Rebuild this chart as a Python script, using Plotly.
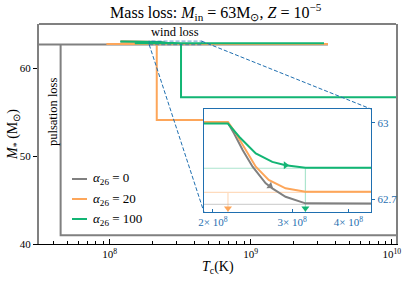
import math
import plotly.graph_objects as go

# ------------------------------------------------------------------ data
alpha_values = ["0", "20", "100"]
colors = ["#808080", "#fda65a", "#12b574"]
light_colors = ["rgba(128,128,128,0.35)", "rgba(253,166,90,0.40)", "rgba(18,181,116,0.35)"]

# forward phase (contraction + wind loss), T_c in K, M in Msun
g_fwd_T = [1.2e8, 2.16e8, 2.23e8, 2.33e8, 2.45e8, 2.62e8, 2.71e8, 2.90e8, 3.21e8, 4.45e8, 3.53e9]
g_fwd_M = [63.0, 63.0, 62.958, 62.893, 62.828, 62.763, 62.743, 62.710, 62.684, 62.680, 62.680]
o_fwd_T = [1.2e8, 2.16e8, 2.25e8, 2.37e8, 2.49e8, 2.66e8, 2.90e8, 3.21e8, 4.45e8, 3.53e9]
o_fwd_M = [63.004, 63.004, 62.959, 62.893, 62.828, 62.776, 62.743, 62.730, 62.727, 62.727]
gr_fwd_T = [1.19e8, 2.16e8, 2.29e8, 2.49e8, 2.71e8, 2.90e8, 3.21e8, 4.45e8, 3.31e9]
gr_fwd_M = [62.998, 62.998, 62.945, 62.880, 62.847, 62.834, 62.824, 62.822, 62.822]

# return phase (pulse: T_c drops, mass lost, contraction to the end)
g_ret_T = [3.53e9, 2.5e7, 4.5e7, 4.5e7, 1.5e10]
g_ret_M = [62.680, 62.680, 62.680, 41.0, 41.0]
o_ret_T = [3.53e9, 9.5e7, 2.16e8, 2.16e8, 3.0e9]
o_ret_M = [62.727, 62.727, 62.727, 54.1, 54.1]
gr_ret_T = [3.31e9, 1.51e8, 3.21e8, 3.21e8, 1.5e10]
gr_ret_M = [62.822, 62.822, 62.822, 56.67, 56.67]

# direction arrows in the inset
arrow_T = [[2.68e8], [2.16e8], [2.90e8, 3.21e8]]
arrow_M = [[62.752], [62.665], [62.834, 62.665]]
arrow_sym = [["triangle-right"], ["triangle-down"], ["triangle-right", "triangle-down"]]
arrow_ang = [[35], [0], [0, 0]]

fwd_T = [g_fwd_T, o_fwd_T, gr_fwd_T]
fwd_M = [g_fwd_M, o_fwd_M, gr_fwd_M]
ret_T = [g_ret_T, o_ret_T, gr_ret_T]
ret_M = [g_ret_M, o_ret_M, gr_ret_M]

# axes ranges
X_RANGE = [7.5, 10.03]          # log10 T_c
Y_RANGE = [40, 65]
INSET_T = [1.91e8, 4.49e8]
INSET_M = [62.65, 63.055]
INSET_XDOM = [0.462, 0.930]
INSET_YDOM = [0.1455, 0.6136]

BLUE = "#1f6fb0"
FONT = "Liberation Serif"


def paper_x(T):
    return (math.log10(T) - X_RANGE[0]) / (X_RANGE[1] - X_RANGE[0])


def paper_y(M):
    return (M - Y_RANGE[0]) / (Y_RANGE[1] - Y_RANGE[0])


fig = go.Figure()

# ---------------------------------------------------------- main traces
for i in range(3):
    fig.add_trace(go.Scatter(
        x=fwd_T[i] + ret_T[i][1:], y=fwd_M[i] + ret_M[i][1:],
        mode="lines", line=dict(color=colors[i], width=2),
        showlegend=False, hoverinfo="skip", xaxis="x", yaxis="y"))

# zoom rectangle on main axes
fig.add_trace(go.Scatter(
    x=[INSET_T[0], INSET_T[1], INSET_T[1], INSET_T[0], INSET_T[0]],
    y=[INSET_M[0], INSET_M[0], INSET_M[1], INSET_M[1], INSET_M[0]],
    mode="lines", line=dict(color="rgba(31,111,176,0.55)", width=1.2, dash="4px,2px"),
    showlegend=False, hoverinfo="skip", xaxis="x", yaxis="y"))

# ---------------------------------------------------------- inset traces
fig.add_trace(go.Scatter(
    x=[INSET_T[0], INSET_T[1], INSET_T[1], INSET_T[0], INSET_T[0]],
    y=[INSET_M[0], INSET_M[0], INSET_M[1], INSET_M[1], INSET_M[0]],
    mode="lines", fill="toself", fillcolor="white", line=dict(width=0, color="white"),
    showlegend=False, hoverinfo="skip", xaxis="x2", yaxis="y2"))
for i in range(3):
    fig.add_trace(go.Scatter(
        x=ret_T[i], y=ret_M[i], mode="lines",
        line=dict(color=light_colors[i], width=1.2),
        showlegend=False, hoverinfo="skip", xaxis="x2", yaxis="y2"))
for i in range(3):
    fig.add_trace(go.Scatter(
        x=fwd_T[i], y=fwd_M[i], mode="lines",
        line=dict(color=colors[i], width=2),
        showlegend=False, hoverinfo="skip", xaxis="x2", yaxis="y2"))
for i in range(3):
    fig.add_trace(go.Scatter(
        x=arrow_T[i], y=arrow_M[i], mode="markers",
        marker=dict(symbol=arrow_sym[i], angle=arrow_ang[i], size=7, color=colors[i],
                    line=dict(width=0)),
        cliponaxis=False,
        showlegend=False, hoverinfo="skip", xaxis="x2", yaxis="y2"))

# ---------------------------------------------------------- shapes
shapes = []
# top spine (gray)
shapes.append(dict(type="line", xref="paper", yref="paper", x0=0, x1=1, y0=1, y1=1,
                   line=dict(color="#808080", width=2)))
# inset connectors
shapes.append(dict(type="line", xref="paper", yref="paper",
                   x0=paper_x(INSET_T[1]), y0=paper_y(INSET_M[1]),
                   x1=INSET_XDOM[1], y1=INSET_YDOM[1],
                   line=dict(color=BLUE, width=1, dash="4px,2px")))
shapes.append(dict(type="line", xref="paper", yref="paper",
                   x0=paper_x(INSET_T[0]), y0=paper_y(INSET_M[0]),
                   x1=INSET_XDOM[0], y1=INSET_YDOM[0],
                   line=dict(color=BLUE, width=1, dash="4px,2px")))

# legend (manual)
annotations = []
leg_y = [0.2955, 0.2045, 0.1136]
for i in range(3):
    shapes.append(dict(type="line", xref="paper", yref="paper",
                       x0=0.0924, x1=0.1345, y0=leg_y[i], y1=leg_y[i],
                       line=dict(color=colors[i], width=2)))
    annotations.append(dict(xref="paper", yref="paper", x=0.147, y=leg_y[i],
                            xanchor="left", yanchor="middle", showarrow=False,
                            text="<i>α</i><sub>26</sub> = " + alpha_values[i],
                            font=dict(size=13, color="black", family=FONT)))

annotations += [
    dict(xref="x", yref="y", x=math.log10(2.9e8), y=64.1, text="wind loss",
         xanchor="center", yanchor="middle",
         showarrow=False, font=dict(size=12.5, color="black", family=FONT)),
    dict(xref="x", yref="y", x=math.log10(3.97e7), y=55.1, text="pulsation loss",
         xanchor="center", yanchor="middle",
         textangle=-90, showarrow=False, font=dict(size=12.5, color="black", family=FONT)),
    dict(xref="paper", yref="paper", x=0.5, y=-0.109,
         xanchor="center", yanchor="middle",
         text="<i>T</i><sub>c</sub>(K)", showarrow=False,
         font=dict(size=14, color="black", family=FONT)),
    dict(xref="paper", yref="paper", x=-0.073, y=0.5, textangle=-90,
         xanchor="center", yanchor="middle",
         text="<i>M</i><sub>*</sub> (M<sub>⊙</sub>)", showarrow=False,
         font=dict(size=14, color="black", family=FONT)),
]

major_x = [1e8, 1e9, 1e10]
major_x_text = ["10<sup>8</sup>", "10<sup>9</sup>", "10<sup>10</sup>"]
minor_x = [k * 10 ** n for n in (7, 8, 9) for k in range(2, 10)]

inset_x_vals = [2e8, 3e8, 4e8]
inset_x_text = ["2× 10<sup>8</sup>", "3× 10<sup>8</sup>", "4× 10<sup>8</sup>"]
inset_y_vals = [63.0, 62.7]
inset_y_text = ["63", "62.7"]

fig.update_layout(
    width=407, height=288,
    margin=dict(l=39, r=11, t=24, b=44),
    paper_bgcolor="white", plot_bgcolor="white",
    font=dict(family=FONT, color="black"),
    showlegend=False,
    title=dict(text="Mass loss: <i>M</i><sub>in</sub> = 63M<sub>⊙</sub>, <i>Z</i> = 10<sup>−5</sup>",
               x=0.53, xanchor="center", y=0.958, yanchor="middle",
               font=dict(size=16, family=FONT, color="black")),
    xaxis=dict(type="log", range=X_RANGE, domain=[0, 1], anchor="y",
               showgrid=False, zeroline=False, automargin=False,
               showline=True, linecolor="black", linewidth=1.2, mirror=False,
               ticks="inside", ticklen=5, tickwidth=1, tickcolor="black",
               tickvals=major_x, ticktext=major_x_text,
               tickfont=dict(size=11, family=FONT, color="black"),
               minor=dict(tickvals=minor_x, ticks="inside", ticklen=3,
                          tickwidth=1, tickcolor="black", showgrid=False)),
    yaxis=dict(range=Y_RANGE, domain=[0, 1], anchor="x",
               showgrid=False, zeroline=False, automargin=False,
               showline=True, linecolor="#808080", linewidth=2, mirror=True,
               ticks="outside", ticklen=4, tickwidth=1, tickcolor="black",
               tickvals=[40, 50, 60],
               tickfont=dict(size=11, family=FONT, color="black")),
    xaxis2=dict(type="log", range=[math.log10(INSET_T[0]), math.log10(INSET_T[1])],
                domain=INSET_XDOM, anchor="y2", automargin=False,
                showgrid=False, zeroline=False,
                showline=True, linecolor=BLUE, linewidth=1.3, mirror=True,
                ticks="inside", ticklen=3, tickcolor=BLUE,
                tickvals=inset_x_vals, ticktext=inset_x_text,
                tickfont=dict(size=11, family=FONT, color=BLUE)),
    yaxis2=dict(range=INSET_M, domain=INSET_YDOM, anchor="x2", side="right",
                showgrid=False, zeroline=False, automargin=False,
                showline=True, linecolor=BLUE, linewidth=1.3, mirror=True,
                ticks="outside", ticklen=3, tickcolor=BLUE,
                tickvals=inset_y_vals, ticktext=inset_y_text,
                tickfont=dict(size=11, family=FONT, color=BLUE)),
    shapes=shapes,
    annotations=annotations,
)

fig.write_html("out.html",
               config={"displayModeBar": False, "staticPlot": True},
               post_script="document.body.style.margin='0px';document.body.style.overflow='hidden';")
